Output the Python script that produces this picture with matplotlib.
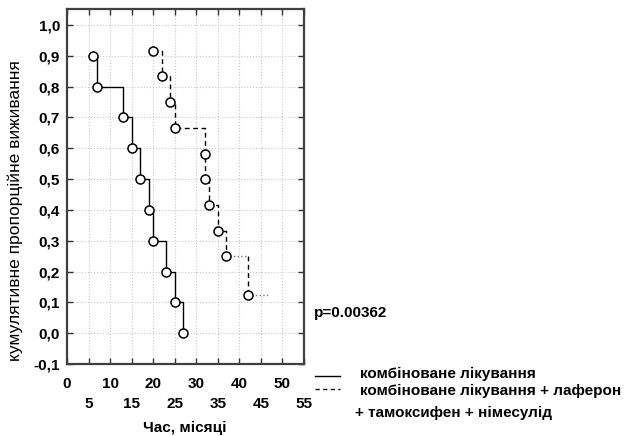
import matplotlib.pyplot as plt
from matplotlib.ticker import FixedLocator

plt.rcParams['font.family'] = ['Liberation Sans', 'DejaVu Sans']

# combined treatment
t_comb = [6, 7, 13, 15, 17, 19, 20, 23, 25, 27]
s_comb = [0.9, 0.8, 0.7, 0.6, 0.5, 0.4, 0.3, 0.2, 0.1, 0.0]

# combined treatment + laferon + tamoxifen + nimesulide
t_ext = [20, 22, 24, 25, 32, 32, 33, 35, 37, 42]
s_ext = [0.917, 0.833, 0.75, 0.667, 0.583, 0.5, 0.417, 0.333, 0.25, 0.125]
t_ext_last = 47  # censored end of follow-up

y_ticks = [-0.1, 0.0, 0.1, 0.2, 0.3, 0.4, 0.5, 0.6, 0.7, 0.8, 0.9, 1.0]
x_major = [0, 10, 20, 30, 40, 50]
x_minor = [5, 15, 25, 35, 45, 55]

fig = plt.figure(figsize=(6.35, 4.36), dpi=100)
ax = fig.add_axes([67 / 635, 1 - 364 / 436, 237 / 635, 355 / 436])

dash = (3.5, 2.5)

# solid curve
ax.step(t_comb, s_comb, where='post', color='black', lw=1.0)
ax.plot(t_comb, s_comb, 'o', mfc='white', mec='black', ms=6.5, mew=1.1, zorder=5)

# dashed curve
ax.step(t_ext[:9], s_ext[:9], where='post', color='black', lw=1.0, dashes=dash)
ax.plot([t_ext[8], t_ext[9]], [s_ext[8], s_ext[8]], color='#777777', lw=1.0, ls=':')
ax.plot([t_ext[9], t_ext[9]], [s_ext[8], s_ext[9]], color='black', lw=1.0, dashes=dash)
ax.plot([t_ext[9], t_ext_last], [s_ext[9], s_ext[9]], color='#777777', lw=1.0, ls=':')
ax.plot(t_ext, s_ext, 'o', mfc='white', mec='black', ms=6.5, mew=1.1, zorder=5)

ax.set_xlim(0, 55)
ax.set_ylim(-0.1, 1.052)

ax.yaxis.set_major_locator(FixedLocator(y_ticks))
ax.set_yticklabels([f'{v:.1f}'.replace('.', ',') for v in y_ticks])
ax.xaxis.set_major_locator(FixedLocator(x_major))
ax.xaxis.set_minor_locator(FixedLocator(x_minor))
ax.set_xticklabels([str(v) for v in x_major])
ax.set_xticklabels([str(v) for v in x_minor], minor=True)

ax.tick_params(which='both', direction='in', length=4, width=1.0, color='#333333',
               top=True, right=True, labelsize=11)
ax.tick_params(axis='x', which='major', pad=9)
ax.tick_params(axis='x', which='minor', pad=23.5)
ax.tick_params(axis='y', pad=5)
for lab in ax.get_xticklabels() + ax.get_xticklabels(minor=True) + ax.get_yticklabels():
    lab.set_fontweight('bold')

ax.grid(True, which='both', color='#c8c8c8', lw=0.8, ls=':')
ax.set_axisbelow(True)
for sp in ax.spines.values():
    sp.set_color('#404040')
    sp.set_linewidth(1.6)

fig.text(185 / 635, 1 - 428 / 436, 'Час, місяці', ha='center', va='center',
         fontsize=11, fontweight='bold')
fig.text(15 / 635, 1 - 211 / 436, 'кумулятивне пропорційне виживання', rotation=90,
         ha='center', va='center', fontsize=12.5, fontweight='medium')

fig.text(314 / 635, 1 - 313 / 436, 'p=0.00362', ha='left', va='center',
         fontsize=11, fontweight='bold')

# legend drawn by hand outside the axes
fig.add_artist(plt.Line2D([315 / 635, 340 / 635], [1 - 376 / 436, 1 - 376 / 436],
                          color='black', lw=1.0))
fig.add_artist(plt.Line2D([315 / 635, 340 / 635], [1 - 389 / 436, 1 - 389 / 436],
                          color='black', lw=1.0, dashes=(3, 2.5)))
fig.text(360 / 635, 1 - 374 / 436, 'комбіноване лікування', ha='left', va='center',
         fontsize=11, fontweight='bold')
fig.text(360 / 635, 1 - 391 / 436, 'комбіноване лікування + лаферон', ha='left',
         va='center', fontsize=11, fontweight='bold')
fig.text(355 / 635, 1 - 413 / 436, '+ тамоксифен + німесулід', ha='left', va='center',
         fontsize=11, fontweight='bold')

fig.savefig('out.png', dpi=100)
